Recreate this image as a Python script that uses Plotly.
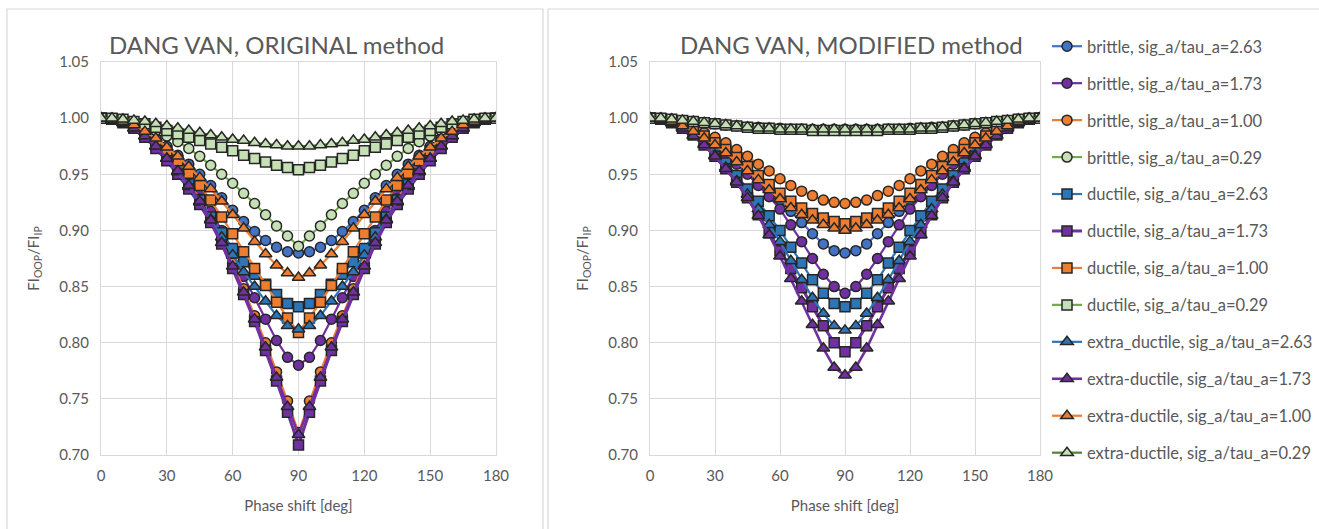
import plotly.graph_objects as go

phase = [0, 5, 10, 15, 20, 25, 30, 35, 40, 45, 50, 55, 60, 65, 70, 75, 80, 85, 90,
         95, 100, 105, 110, 115, 120, 125, 130, 135, 140, 145, 150, 155, 160, 165, 170, 175, 180]

series_names = [
    "brittle, sig_a/tau_a=2.63", "brittle, sig_a/tau_a=1.73", "brittle, sig_a/tau_a=1.00", "brittle, sig_a/tau_a=0.29",
    "ductile, sig_a/tau_a=2.63", "ductile, sig_a/tau_a=1.73", "ductile, sig_a/tau_a=1.00", "ductile, sig_a/tau_a=0.29",
    "extra_ductile, sig_a/tau_a=2.63", "extra-ductile, sig_a/tau_a=1.73", "extra-ductile, sig_a/tau_a=1.00", "extra-ductile, sig_a/tau_a=0.29",
]

# ---------------- ORIGINAL method ----------------
orig_brittle_263 = [1.000, 0.999, 0.997, 0.994, 0.989, 0.982, 0.975, 0.967, 0.959, 0.950, 0.940, 0.929, 0.918, 0.908, 0.899, 0.891, 0.885, 0.881, 0.880,
                    0.881, 0.885, 0.891, 0.899, 0.908, 0.918, 0.929, 0.940, 0.950, 0.959, 0.967, 0.975, 0.982, 0.989, 0.994, 0.997, 0.999, 1.000]
orig_brittle_173 = [1.000, 0.999, 0.997, 0.993, 0.987, 0.979, 0.970, 0.959, 0.946, 0.932, 0.917, 0.900, 0.879, 0.859, 0.840, 0.821, 0.802, 0.787, 0.780,
                    0.787, 0.802, 0.821, 0.840, 0.859, 0.879, 0.900, 0.917, 0.932, 0.946, 0.959, 0.970, 0.979, 0.987, 0.993, 0.997, 0.999, 1.000]
orig_brittle_100 = [1.000, 0.999, 0.997, 0.993, 0.987, 0.979, 0.969, 0.957, 0.943, 0.928, 0.911, 0.892, 0.871, 0.848, 0.824, 0.800, 0.774, 0.748, 0.720,
                    0.748, 0.774, 0.800, 0.824, 0.848, 0.871, 0.892, 0.911, 0.928, 0.943, 0.957, 0.969, 0.979, 0.987, 0.993, 0.997, 0.999, 1.000]
orig_brittle_029 = [1.000, 1.000, 0.998, 0.996, 0.993, 0.989, 0.984, 0.979, 0.973, 0.966, 0.958, 0.950, 0.942, 0.933, 0.924, 0.914, 0.904, 0.895, 0.886,
                    0.895, 0.904, 0.914, 0.924, 0.933, 0.942, 0.950, 0.958, 0.966, 0.973, 0.979, 0.984, 0.989, 0.993, 0.996, 0.998, 1.000, 1.000]
orig_ductile_263 = [1.000, 0.999, 0.997, 0.992, 0.985, 0.976, 0.966, 0.954, 0.941, 0.927, 0.912, 0.898, 0.884, 0.872, 0.861, 0.852, 0.843, 0.835, 0.832,
                    0.835, 0.843, 0.852, 0.861, 0.872, 0.884, 0.898, 0.912, 0.927, 0.941, 0.954, 0.966, 0.976, 0.985, 0.992, 0.997, 0.999, 1.000]
orig_ductile_173 = [1.000, 0.999, 0.996, 0.991, 0.983, 0.973, 0.962, 0.950, 0.937, 0.923, 0.907, 0.888, 0.866, 0.843, 0.819, 0.793, 0.766, 0.738, 0.709,
                    0.738, 0.766, 0.793, 0.819, 0.843, 0.866, 0.888, 0.907, 0.923, 0.937, 0.950, 0.962, 0.973, 0.983, 0.991, 0.996, 0.999, 1.000]
orig_ductile_100 = [1.000, 0.999, 0.997, 0.993, 0.987, 0.980, 0.971, 0.962, 0.951, 0.940, 0.927, 0.912, 0.897, 0.881, 0.866, 0.851, 0.836, 0.822, 0.809,
                    0.822, 0.836, 0.851, 0.866, 0.881, 0.897, 0.912, 0.927, 0.940, 0.951, 0.962, 0.971, 0.980, 0.987, 0.993, 0.997, 0.999, 1.000]
orig_ductile_029 = [1.000, 1.000, 0.999, 0.997, 0.995, 0.992, 0.989, 0.986, 0.983, 0.980, 0.977, 0.974, 0.971, 0.967, 0.964, 0.961, 0.958, 0.956, 0.954,
                    0.956, 0.958, 0.961, 0.964, 0.967, 0.971, 0.974, 0.977, 0.980, 0.983, 0.986, 0.989, 0.992, 0.995, 0.997, 0.999, 1.000, 1.000]
orig_extra_263 = [1.000, 0.999, 0.996, 0.991, 0.984, 0.975, 0.964, 0.952, 0.939, 0.925, 0.910, 0.894, 0.878, 0.863, 0.850, 0.837, 0.824, 0.815, 0.812,
                  0.815, 0.824, 0.837, 0.850, 0.863, 0.878, 0.894, 0.910, 0.925, 0.939, 0.952, 0.964, 0.975, 0.984, 0.991, 0.996, 0.999, 1.000]
orig_extra_173 = [1.000, 0.999, 0.996, 0.991, 0.984, 0.975, 0.964, 0.953, 0.940, 0.926, 0.909, 0.889, 0.868, 0.845, 0.821, 0.796, 0.769, 0.743, 0.718,
                  0.743, 0.769, 0.796, 0.821, 0.845, 0.868, 0.889, 0.909, 0.926, 0.940, 0.953, 0.964, 0.975, 0.984, 0.991, 0.996, 0.999, 1.000]
orig_extra_100 = [1.000, 0.999, 0.997, 0.994, 0.988, 0.982, 0.974, 0.966, 0.957, 0.947, 0.937, 0.926, 0.914, 0.902, 0.890, 0.879, 0.869, 0.862, 0.858,
                  0.862, 0.869, 0.879, 0.890, 0.902, 0.914, 0.926, 0.937, 0.947, 0.957, 0.966, 0.974, 0.982, 0.988, 0.994, 0.997, 0.999, 1.000]
orig_extra_029 = [1.000, 1.000, 0.999, 0.998, 0.997, 0.995, 0.993, 0.991, 0.989, 0.987, 0.985, 0.983, 0.981, 0.980, 0.978, 0.977, 0.976, 0.975, 0.975,
                  0.975, 0.976, 0.977, 0.978, 0.980, 0.981, 0.983, 0.985, 0.987, 0.989, 0.991, 0.993, 0.995, 0.997, 0.998, 0.999, 1.000, 1.000]

# ---------------- MODIFIED method ----------------
mod_brittle_263 = [1.000, 0.999, 0.998, 0.995, 0.991, 0.986, 0.980, 0.973, 0.965, 0.956, 0.947, 0.937, 0.927, 0.917, 0.907, 0.897, 0.888, 0.882, 0.880,
                   0.882, 0.888, 0.897, 0.907, 0.917, 0.927, 0.937, 0.947, 0.956, 0.965, 0.973, 0.980, 0.986, 0.991, 0.995, 0.998, 0.999, 1.000]
mod_brittle_173 = [1.000, 0.999, 0.997, 0.993, 0.988, 0.982, 0.975, 0.967, 0.959, 0.950, 0.940, 0.930, 0.919, 0.905, 0.890, 0.875, 0.861, 0.850, 0.844,
                   0.850, 0.861, 0.875, 0.890, 0.905, 0.919, 0.930, 0.940, 0.950, 0.959, 0.967, 0.975, 0.982, 0.988, 0.993, 0.997, 0.999, 1.000]
mod_brittle_100 = [1.000, 1.000, 0.998, 0.995, 0.991, 0.987, 0.983, 0.978, 0.972, 0.966, 0.959, 0.953, 0.946, 0.940, 0.935, 0.931, 0.927, 0.925, 0.924,
                   0.925, 0.927, 0.931, 0.935, 0.940, 0.946, 0.953, 0.959, 0.966, 0.972, 0.978, 0.983, 0.987, 0.991, 0.995, 0.998, 1.000, 1.000]
mod_brittle_029 = [1.000, 1.000, 0.999, 0.998, 0.997, 0.996, 0.995, 0.994, 0.993, 0.992, 0.992, 0.991, 0.991, 0.990, 0.990, 0.990, 0.990, 0.990, 0.990,
                   0.990, 0.990, 0.990, 0.990, 0.990, 0.991, 0.991, 0.992, 0.992, 0.993, 0.994, 0.995, 0.996, 0.997, 0.998, 0.999, 1.000, 1.000]
mod_ductile_263 = [1.000, 0.999, 0.997, 0.993, 0.987, 0.979, 0.970, 0.960, 0.949, 0.937, 0.926, 0.913, 0.900, 0.885, 0.871, 0.856, 0.844, 0.835, 0.832,
                   0.835, 0.844, 0.856, 0.871, 0.885, 0.900, 0.913, 0.926, 0.937, 0.949, 0.960, 0.970, 0.979, 0.987, 0.993, 0.997, 0.999, 1.000]
mod_ductile_173 = [1.000, 0.999, 0.996, 0.991, 0.985, 0.976, 0.966, 0.955, 0.943, 0.929, 0.914, 0.898, 0.882, 0.866, 0.849, 0.832, 0.815, 0.800, 0.792,
                   0.800, 0.815, 0.832, 0.849, 0.866, 0.882, 0.898, 0.914, 0.929, 0.943, 0.955, 0.966, 0.976, 0.985, 0.991, 0.996, 0.999, 1.000]
mod_ductile_100 = [1.000, 0.999, 0.997, 0.994, 0.989, 0.984, 0.978, 0.972, 0.965, 0.957, 0.949, 0.941, 0.933, 0.926, 0.920, 0.915, 0.911, 0.908, 0.906,
                   0.908, 0.911, 0.915, 0.920, 0.926, 0.933, 0.941, 0.949, 0.957, 0.965, 0.972, 0.978, 0.984, 0.989, 0.994, 0.997, 0.999, 1.000]
mod_ductile_029 = [1.000, 1.000, 0.999, 0.998, 0.997, 0.996, 0.995, 0.994, 0.993, 0.992, 0.991, 0.991, 0.990, 0.990, 0.990, 0.989, 0.989, 0.989, 0.989,
                   0.989, 0.989, 0.989, 0.990, 0.990, 0.990, 0.991, 0.991, 0.992, 0.993, 0.994, 0.995, 0.996, 0.997, 0.998, 0.999, 1.000, 1.000]
mod_extra_263 = [1.000, 0.999, 0.996, 0.992, 0.985, 0.977, 0.967, 0.956, 0.944, 0.932, 0.919, 0.905, 0.890, 0.873, 0.856, 0.840, 0.826, 0.815, 0.811,
                 0.815, 0.826, 0.840, 0.856, 0.873, 0.890, 0.905, 0.919, 0.932, 0.944, 0.956, 0.967, 0.977, 0.985, 0.992, 0.996, 0.999, 1.000]
mod_extra_173 = [1.000, 0.999, 0.996, 0.991, 0.984, 0.976, 0.966, 0.955, 0.943, 0.929, 0.913, 0.896, 0.877, 0.857, 0.837, 0.816, 0.795, 0.778, 0.771,
                 0.778, 0.795, 0.816, 0.837, 0.857, 0.877, 0.896, 0.913, 0.929, 0.943, 0.955, 0.966, 0.976, 0.984, 0.991, 0.996, 0.999, 1.000]
mod_extra_100 = [1.000, 0.999, 0.997, 0.993, 0.988, 0.982, 0.976, 0.969, 0.961, 0.953, 0.945, 0.936, 0.928, 0.920, 0.914, 0.909, 0.905, 0.902, 0.900,
                 0.902, 0.905, 0.909, 0.914, 0.920, 0.928, 0.936, 0.945, 0.953, 0.961, 0.969, 0.976, 0.982, 0.988, 0.993, 0.997, 0.999, 1.000]
mod_extra_029 = [1.000, 1.000, 0.999, 0.998, 0.997, 0.996, 0.995, 0.994, 0.993, 0.992, 0.991, 0.991, 0.990, 0.990, 0.990, 0.990, 0.990, 0.990, 0.990,
                 0.990, 0.990, 0.990, 0.990, 0.990, 0.990, 0.991, 0.991, 0.992, 0.993, 0.994, 0.995, 0.996, 0.997, 0.998, 0.999, 1.000, 1.000]

x_ticks = [0, 30, 60, 90, 120, 150, 180]

original_series = [orig_brittle_263, orig_brittle_173, orig_brittle_100, orig_brittle_029,
                   orig_ductile_263, orig_ductile_173, orig_ductile_100, orig_ductile_029,
                   orig_extra_263, orig_extra_173, orig_extra_100, orig_extra_029]
modified_series = [mod_brittle_263, mod_brittle_173, mod_brittle_100, mod_brittle_029,
                   mod_ductile_263, mod_ductile_173, mod_ductile_100, mod_ductile_029,
                   mod_extra_263, mod_extra_173, mod_extra_100, mod_extra_029]

# styles: (line colour, marker fill, symbol, line width)
BLUE1, BLUE2, PURPLE, ORANGE = "#4472C4", "#2E75B6", "#7030A0", "#ED7D31"
GREEN1, GREEN2, LGREEN = "#70AD47", "#548235", "#C5E0B4"
styles = [
    (BLUE1, BLUE1, "circle", 2.2), (PURPLE, PURPLE, "circle", 2.2), (ORANGE, ORANGE, "circle", 2.2), (GREEN1, LGREEN, "circle", 2.2),
    (BLUE2, BLUE2, "square", 2.2), (PURPLE, PURPLE, "square", 3.0), (ORANGE, ORANGE, "square", 2.2), (GREEN1, LGREEN, "square", 2.2),
    (BLUE2, BLUE2, "triangle-up", 2.2), (PURPLE, PURPLE, "triangle-up", 2.6), (ORANGE, ORANGE, "triangle-up", 2.2), (GREEN2, LGREEN, "triangle-up", 2.2),
]

FONT = "Lato, 'Open Sans', sans-serif"
GREY = "#595959"
W, H = 1319, 529

fig = go.Figure()
for panel, data in ((1, original_series), (2, modified_series)):
    for i, (name, ys) in enumerate(zip(series_names, data)):
        lc, fc, sym, lw = styles[i]
        fig.add_trace(go.Scatter(
            x=phase, y=ys, name=name, mode="lines+markers",
            xaxis="x" if panel == 1 else "x2", yaxis="y" if panel == 1 else "y2",
            line=dict(color=lc, width=lw),
            marker=dict(symbol=sym, size=10 if sym != "triangle-up" else 11, color=fc,
                        line=dict(color="#262626", width=1.5)),
            legendgroup=name, showlegend=(panel == 1),
        ))

ydom = [1 - 455 / H, 1 - 62 / H]
axis_common = dict(showgrid=True, gridcolor="#D9D9D9", gridwidth=1, zeroline=False,
                   showline=True, linecolor="#D9D9D9", linewidth=1, mirror=True, automargin=False,
                   ticks="", tickfont=dict(family=FONT, size=15, color=GREY))
xtitle = dict(text="Phase shift [deg]", font=dict(family=FONT, size=15, color=GREY), standoff=17)
ytitle = dict(text="FI<sub>OOP</sub>/FI<sub>IP</sub>", font=dict(family=FONT, size=15, color=GREY), standoff=16)

fig.update_layout(
    width=W, height=H, margin=dict(l=0, r=0, t=0, b=0, autoexpand=False),
    paper_bgcolor="white", plot_bgcolor="white",
    font=dict(family=FONT, color=GREY),
    xaxis=dict(domain=[101 / W, 496 / W], range=[0, 180], tickvals=x_ticks, anchor="y", title=xtitle,
               ticklabelstandoff=7, **axis_common),
    yaxis=dict(domain=ydom, range=[0.70, 1.05], dtick=0.05, tickformat=".2f", anchor="x", title=ytitle,
               ticklabelstandoff=8, **axis_common),
    xaxis2=dict(domain=[650 / W, 1040 / W], range=[0, 180], tickvals=x_ticks, anchor="y2", title=xtitle,
                ticklabelstandoff=7, **axis_common),
    yaxis2=dict(domain=ydom, range=[0.70, 1.05], dtick=0.05, tickformat=".2f", anchor="x2", title=ytitle,
                ticklabelstandoff=8, **axis_common),
    legend=dict(x=1047 / W, y=1 - 29 / H, xanchor="left", yanchor="top",
                font=dict(family=FONT, size=16.5, color=GREY), tracegroupgap=12.5,
                bgcolor="rgba(0,0,0,0)", itemwidth=30),
    showlegend=True,
)

fig.add_annotation(text="DANG VAN, ORIGINAL method", x=107 / W, y=1 - 44 / H, xref="paper", yref="paper",
                   xanchor="left", yanchor="middle", showarrow=False, font=dict(family=FONT, size=24, color=GREY))
fig.add_annotation(text="DANG VAN, MODIFIED method", x=678 / W, y=1 - 44 / H, xref="paper", yref="paper",
                   xanchor="left", yanchor="middle", showarrow=False, font=dict(family=FONT, size=24, color=GREY))

# chart-area borders
fig.add_shape(type="rect", xref="paper", yref="paper", x0=7 / W, x1=543 / W, y0=-0.05, y1=1 - 9 / H,
              line=dict(color="#D9D9D9", width=1.2), fillcolor="rgba(0,0,0,0)", layer="below")
fig.add_shape(type="rect", xref="paper", yref="paper", x0=548 / W, x1=1.05, y0=-0.05, y1=1 - 9 / H,
              line=dict(color="#D9D9D9", width=1.2), fillcolor="rgba(0,0,0,0)", layer="below")

fig.write_html("out.html")
